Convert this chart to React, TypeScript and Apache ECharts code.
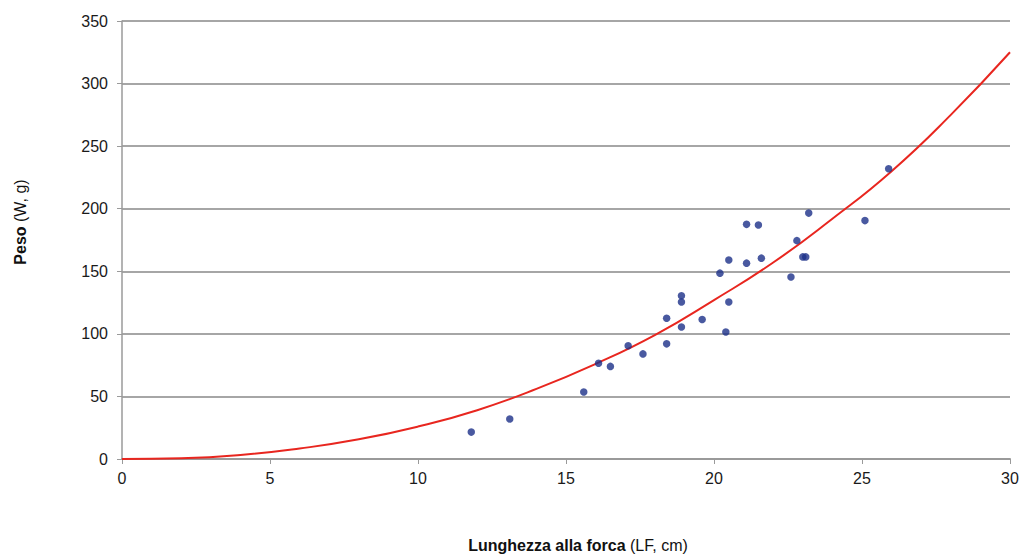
import React, { useEffect, useRef } from "react";
import * as echarts from "echarts";

const lengthCm = [
  11.8, 13.1, 15.6, 16.1, 16.5, 17.1, 17.6, 18.4, 18.4, 18.9, 18.9, 18.9, 19.6,
  20.2, 20.4, 20.5, 20.5, 21.1, 21.1, 21.5, 21.6, 22.6, 22.8, 23.0, 23.1, 23.2,
  25.1, 25.9,
];
const weightG = [
  21.5, 32, 53.5, 76.5, 74, 90.5, 84, 92, 112.5, 130.5, 125.5, 105.5, 111.5,
  148.5, 101.5, 159, 125.5, 187.5, 156.5, 187, 160.5, 145.5, 174.5, 161.5,
  161.5, 196.5, 190.5, 232,
];
const fitX = [0, 2, 4, 6, 8, 10, 12, 14, 16, 18, 20, 22, 24, 26, 28, 30];
const fitY = [0, 0.6, 3.2, 8.4, 15.7, 25.9, 39, 56, 76, 99, 127, 157, 192, 230, 275, 325];
const xTicks = { min: 0, max: 30, interval: 5 };
const yTicks = { min: 0, max: 350, interval: 50 };

export default function App() {
  const ref = useRef<HTMLDivElement>(null);
  useEffect(() => {
    document.body.style.margin = "0";
    if (!ref.current) return;
    const chart = echarts.init(ref.current, undefined, { renderer: "svg" });
    const font = "'Liberation Sans', Arial, sans-serif";
    chart.setOption({
      animation: false,
      backgroundColor: "#ffffff",
      grid: { left: 122, right: 17, top: 21, bottom: 95, containLabel: false },
      xAxis: {
        type: "value",
        min: xTicks.min,
        max: xTicks.max,
        interval: xTicks.interval,
        axisLine: { show: true, lineStyle: { color: "#9a9a9a", width: 2 } },
        axisTick: { show: true, length: 5, lineStyle: { color: "#9a9a9a", width: 1 } },
        axisLabel: { color: "#1a1a1a", fontSize: 16, fontFamily: font, margin: 11 },
        splitLine: { show: false },
      },
      yAxis: {
        type: "value",
        min: yTicks.min,
        max: yTicks.max,
        interval: yTicks.interval,
        axisLine: { show: true, lineStyle: { color: "#9a9a9a", width: 1.5 } },
        axisTick: { show: true, length: 5, lineStyle: { color: "#9a9a9a", width: 1 } },
        axisLabel: { color: "#1a1a1a", fontSize: 16, fontFamily: font, margin: 14 },
        splitLine: { show: true, lineStyle: { color: "#a6a6a6", width: 2 } },
      },
      graphic: [
        {
          type: "text",
          x: 578,
          y: 545,
          style: {
            text: "{b|Lunghezza alla forca} (LF, cm)",
            fontSize: 16,
            fontFamily: font,
            fill: "#111",
            align: "center",
            verticalAlign: "middle",
            rich: { b: { fontWeight: "bold", fontSize: 16, fontFamily: font, fill: "#111" } },
          },
        },
        {
          type: "text",
          x: 20,
          y: 222,
          rotation: Math.PI / 2,
          style: {
            text: "{b|Peso} (W, g)",
            fontSize: 16,
            fontFamily: font,
            fill: "#111",
            align: "center",
            verticalAlign: "middle",
            rich: { b: { fontWeight: "bold", fontSize: 16, fontFamily: font, fill: "#111" } },
          },
        },
      ],
      series: [
        {
          type: "line",
          data: fitX.map((x, i) => [x, fitY[i]]),
          smooth: true,
          showSymbol: false,
          lineStyle: { color: "#e8261f", width: 2 },
          z: 2,
        },
        {
          type: "scatter",
          data: lengthCm.map((x, i) => [x, weightG[i]]),
          symbol: "circle",
          symbolSize: 7.5,
          itemStyle: { color: "#1b2f88" },
          z: 3,
        },
      ],
    });
    return () => chart.dispose();
  }, []);
  return <div ref={ref} style={{ width: 1027, height: 554 }} />;
}
